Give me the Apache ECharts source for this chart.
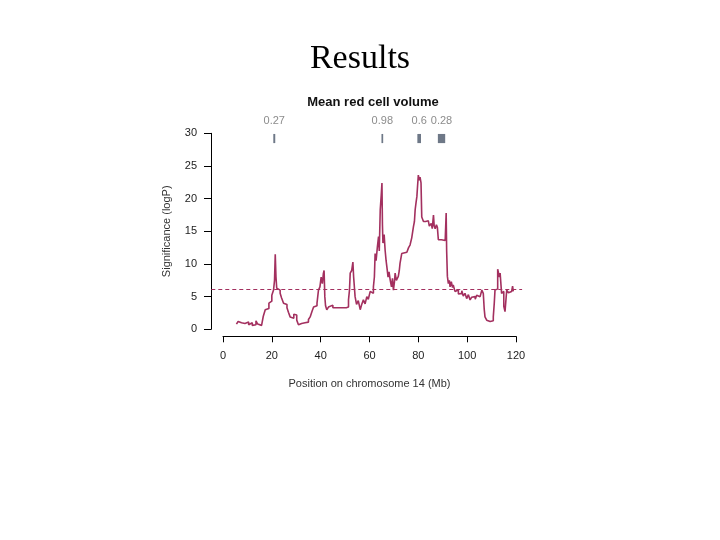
<!DOCTYPE html>
<html>
<head>
<meta charset="utf-8">
<script src="https://cdn.jsdelivr.net/npm/echarts@6/dist/echarts.min.js"></script>
<style>html,body{margin:0;padding:0;background:#fff;}#c{width:720px;height:540px;}</style>
</head>
<body>
<div id="c"></div>
<script>
const positions = [5.5,6.2,7.0,7.6,8.3,9.0,9.8,10.5,11.2,12.0,12.8,13.5,14.2,15.0,15.8,16.5,17.3,18.0,18.8,19.4,20.0,20.7,21.1,21.4,21.7,22.0,22.6,23.4,24.0,24.8,25.5,26.2,26.8,27.5,28.2,29.0,29.6,30.2,30.9,31.5,32.2,33.0,33.6,34.3,35.0,35.7,36.4,37.1,37.8,38.5,39.1,39.7,40.2,40.7,41.1,41.4,41.7,42.0,42.5,43.2,43.9,45,47,49,50.5,51.4,51.8,52.1,52.7,53.2,53.5,54.1,54.7,55.4,56.2,56.8,57.5,58.2,58.9,59.5,60.3,61.0,61.6,62.0,62.3,62.7,63.2,63.7,64.0,64.4,64.8,65.1,65.3,65.5,66.0,66.4,66.8,67.1,67.6,68.0,68.5,69.0,69.4,69.8,70.2,70.5,71.0,71.8,72.2,72.5,73.2,74.0,75.3,76.0,76.6,77.3,78.0,78.4,78.7,79.1,79.4,79.7,80.0,80.4,80.7,81.1,81.4,82.1,83.0,84.1,84.5,84.8,85.3,85.7,86.2,86.5,86.9,87.4,87.8,88.2,89.5,91.0,91.4,91.6,91.9,92.3,92.7,93.0,93.5,94.0,94.3,95.0,95.7,96.4,97.1,97.8,98.4,99.1,99.8,100.5,101.2,101.8,102.6,103.3,103.9,104.6,105.3,106.0,106.6,107.0,107.3,108.0,108.7,109.4,110.0,110.7,111.1,111.4,112.1,112.5,112.8,113.2,113.5,114.1,114.6,115.0,115.5,116.2,116.9,117.6,118.2,118.6,118.9];
const logP = [0.8,1.2,1.0,1.3,0.9,1.2,1.1,0.7,1.0,0.6,0.7,1.3,0.8,0.6,0.9,2.0,3.0,3.2,4.0,4.3,5.2,6.0,7.5,11.5,8.0,6.3,6.0,5.5,4.8,4.0,3.8,3.3,2.6,1.9,1.7,2.3,2.2,1.4,0.7,0.9,1.2,1.0,0.9,1.1,1.5,1.9,2.7,3.4,3.6,4.0,6.0,6.5,8.0,7.0,8.5,9.0,5.0,3.6,3.0,3.4,3.7,3.3,3.3,3.3,3.4,4.5,6.0,8.6,9.0,10.3,8.0,5.0,3.8,4.4,3.0,3.8,4.5,3.9,5.0,4.6,5.8,5.5,6.5,8.0,11.6,10.5,12.5,14.2,12.0,18.3,20.5,22.4,16.0,13.2,14.5,12.1,10.5,9.6,8.0,8.8,7.5,6.5,7.8,6.0,7.2,8.6,7.5,8.1,9.0,10.1,11.6,11.8,12.1,12.5,12.9,14.0,15.7,16.5,18.3,19.5,20.3,22.0,23.6,22.8,23.3,22.4,17.2,16.5,16.6,16.5,15.8,15.7,16.2,15.4,17.5,15.8,15.4,16.0,15.6,13.7,13.6,13.4,17.8,12.0,8.1,7.0,7.5,6.5,7.3,6.4,6.8,5.8,6.0,5.4,5.5,5.9,5.1,5.5,4.7,5.3,4.5,4.9,5.0,4.6,5.2,5.0,5.3,6.0,5.5,3.0,1.9,1.4,1.2,1.0,1.3,1.9,4.0,6.0,6.2,9.2,9.0,8.0,8.6,5.5,5.8,3.5,2.7,6.0,5.6,5.8,5.5,6.6,5.8];
const threshold = 6.1;
const thresholdSpan = [-4.8, 122.5];
const regionStart = [20.6, 64.9, 79.6, 88.0];
const regionEnd = [21.4, 65.6, 81.1, 91.0];
const regionLabels = ['0.27', '0.98', '0.6', '0.28'];
const regionBand = [28.5, 29.9];
const xTicks = [0, 20, 40, 60, 80, 100, 120];
const yTicks = [0, 5, 10, 15, 20, 25, 30];

const lineColor = '#a3305f';
const font = 'Liberation Sans';
const chart = echarts.init(document.getElementById('c'), null, {renderer: 'canvas'});
chart.setOption({
  backgroundColor: '#fff',
  animation: false,
  title: [
    {text: 'Results', left: 'center', top: 37,
     textStyle: {fontFamily: 'Liberation Serif', fontSize: 34, fontWeight: 'normal', color: '#000'}},
    {text: 'Mean red cell volume', left: 368, textAlign: 'center', top: 91,
     textStyle: {fontFamily: font, fontSize: 13, fontWeight: 'bold', color: '#111'}}
  ],
  grid: {left: 223, right: 204, top: 133.3, bottom: 210.7, containLabel: false},
  xAxis: {
    type: 'value', min: xTicks[0], max: xTicks[xTicks.length - 1], interval: 20,
    offset: 7,
    name: 'Position on chromosome 14 (Mb)', nameLocation: 'middle', nameGap: 42,
    nameTextStyle: {fontFamily: font, fontSize: 11, color: '#333'},
    axisLine: {show: true, onZero: false, lineStyle: {color: '#000', width: 1}},
    axisTick: {show: true, length: 6, lineStyle: {color: '#000'}},
    axisLabel: {fontFamily: font, fontSize: 11, color: '#222', margin: 14},
    splitLine: {show: false}
  },
  yAxis: {
    type: 'value', min: yTicks[0], max: yTicks[yTicks.length - 1], interval: 5,
    offset: 12,
    name: 'Significance (logP)', nameLocation: 'middle', nameGap: 39,
    nameTextStyle: {fontFamily: font, fontSize: 11, color: '#333'},
    axisLine: {show: true, onZero: false, lineStyle: {color: '#000', width: 1}},
    axisTick: {show: true, length: 7, lineStyle: {color: '#000'}},
    axisLabel: {fontFamily: font, fontSize: 11, color: '#222', margin: 14},
    splitLine: {show: false}
  },
  series: [{
    type: 'line',
    step: 'end',
    clip: false,
    symbol: 'none',
    itemStyle: {color: lineColor},
    data: positions.map((p, i) => [p, logP[i]]),
    lineStyle: {color: lineColor, width: 1.6},
    markArea: {
      silent: true,
      itemStyle: {color: '#6e7887'},
      label: {show: true, position: 'top', distance: 7, color: '#8c8c8c', fontFamily: font, fontSize: 11},
      data: regionStart.map((s, i) => [
        {name: regionLabels[i], coord: [s, regionBand[0]]},
        {coord: [regionEnd[i], regionBand[1]]}
      ])
    }
  }]
});
const p0 = chart.convertToPixel({gridIndex: 0}, [thresholdSpan[0], threshold]);
const p1 = chart.convertToPixel({gridIndex: 0}, [thresholdSpan[1], threshold]);
chart.setOption({
  graphic: [{
    type: 'line', silent: true, z: 1,
    shape: {x1: p0[0], y1: p0[1], x2: p1[0], y2: p1[1]},
    style: {stroke: lineColor, lineWidth: 1.1, lineDash: [4, 3]}
  }]
});
</script>
</body>
</html>
